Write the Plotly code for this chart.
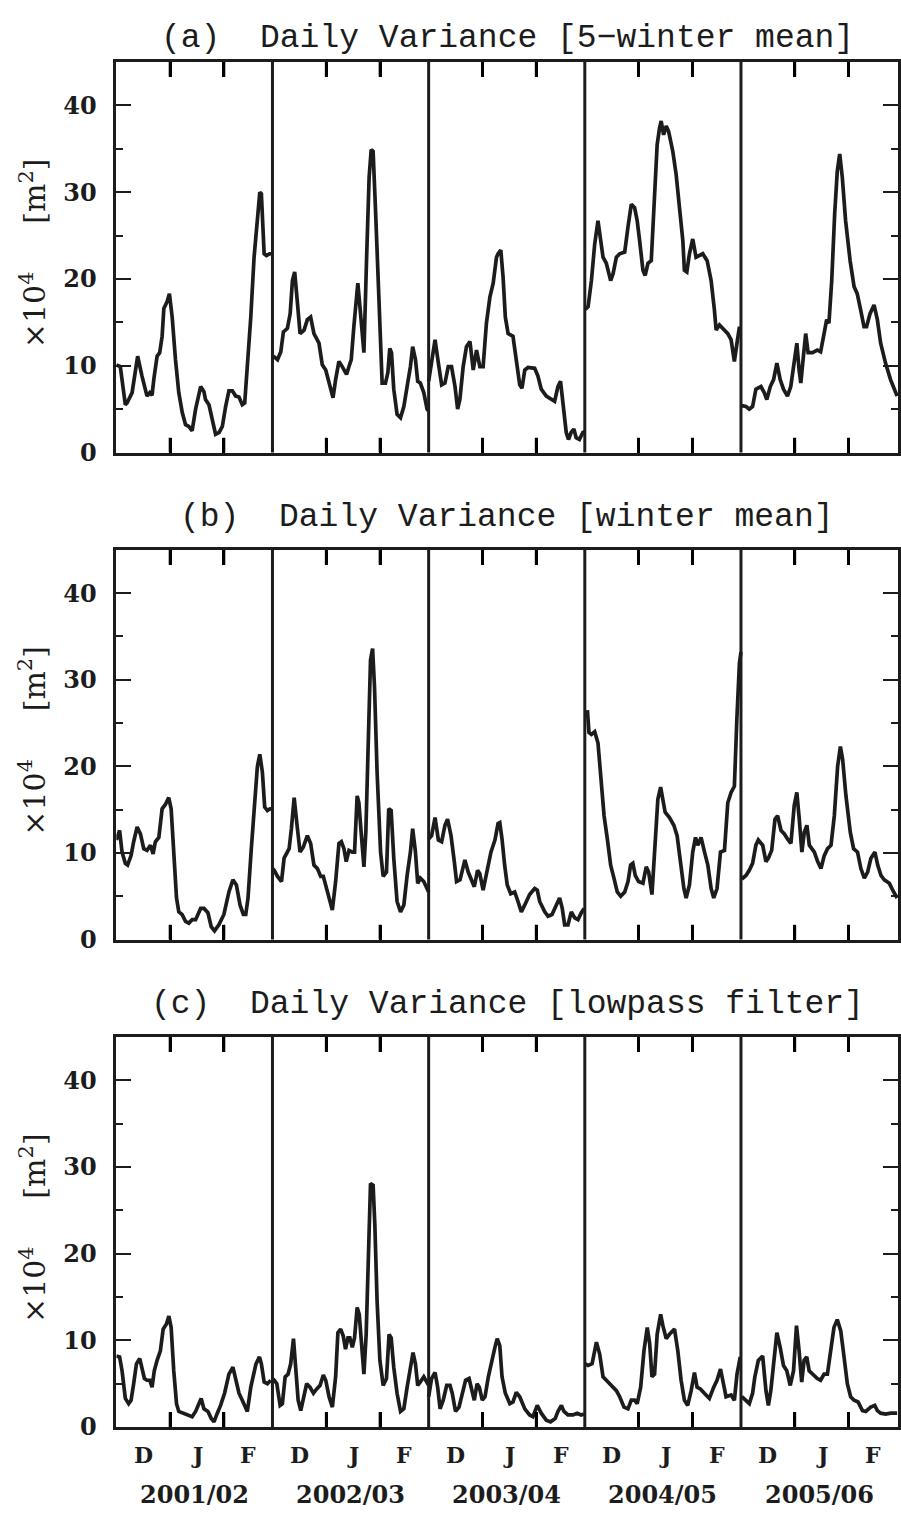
import plotly.graph_objects as go

# ---------------- data ----------------
WINTERS = ["2001/02", "2002/03", "2003/04", "2004/05", "2005/06"]
SEASON_DAYS = 90                      # Dec 1 .. Feb 28
MONTH_LABELS = ["D", "J", "F"]
MONTH_MID = [15.5, 46.5, 76.0]        # mid-month positions (day of winter)
MONTH_BOUNDS = [31, 62]               # Jan 1, Feb 1
Y_RANGE = [0, 45]
Y_MAJOR = [0, 10, 20, 30, 40]
Y_MINOR = [5, 15, 25, 35]

TITLES = ["(a)  Daily Variance [5\u2212winter mean]",
          "(b)  Daily Variance [winter mean]",
          "(c)  Daily Variance [lowpass filter]"]

# panel (a) 5-winter mean, values x10^4 m^2, day of winter
A1_DAY = [0, 2.3, 5.2, 6.2, 9.1, 12.3, 14.8, 16.8, 17.7, 19.3, 20.6, 21.6, 23.5, 25.0, 26.4, 27.4, 29.3, 30.6, 32.2, 34.1, 36.0, 38.0, 39.9, 41.8, 43.7, 45.7, 48.6, 50.5, 51.4, 53.4, 55.3, 57.2, 59.2, 61.1, 63.0, 64.9, 66.9, 68.8, 70.7, 72.6, 74.0, 75.5, 77.5, 79.4, 81.3, 82.7, 83.6, 85.2, 86.5, 88.4, 90.0]
A1_VAL = [10.1, 9.9, 5.5, 5.7, 6.9, 11.1, 8.8, 6.9, 6.5, 6.9, 6.6, 8.4, 11.1, 11.5, 13.4, 16.6, 17.4, 18.3, 15.6, 10.7, 6.9, 4.6, 3.2, 3.0, 2.5, 5.0, 7.6, 7.0, 6.1, 5.5, 3.8, 2.1, 2.3, 3.0, 5.3, 7.1, 7.1, 6.5, 6.4, 5.5, 5.7, 9.5, 15.6, 22.5, 27.5, 30.0, 29.8, 22.9, 22.7, 22.9, 22.9]
A2_DAY = [0.5, 2.9, 4.8, 6.3, 8.6, 10.2, 11.5, 12.8, 14.4, 15.9, 18.2, 20.1, 22.0, 23.9, 26.8, 28.7, 30.7, 33.5, 34.9, 36.4, 38.3, 40.2, 42.7, 44.1, 45.4, 46.9, 47.9, 49.2, 50.4, 51.7, 52.7, 54.2, 55.7, 56.9, 58.0, 59.4, 61.3, 63.2, 65.1, 66.5, 67.6, 68.6, 69.9, 71.8, 73.8, 75.7, 77.6, 79.5, 80.8, 82.4, 83.7, 85.2, 87.2, 89.1, 89.9]
A2_VAL = [11.1, 10.7, 11.6, 13.9, 14.3, 16.0, 19.8, 20.8, 17.2, 13.7, 14.1, 15.3, 15.6, 13.7, 12.6, 10.1, 9.5, 7.6, 6.3, 8.4, 10.5, 9.9, 9.0, 9.9, 10.7, 14.5, 17.2, 19.5, 16.8, 13.3, 11.5, 22.1, 31.7, 34.9, 34.7, 27.9, 18.3, 8.0, 8.0, 9.2, 12.0, 11.5, 7.3, 4.4, 4.0, 5.3, 7.6, 9.9, 12.2, 10.7, 8.2, 8.0, 6.9, 5.0, 4.8]
A3_DAY = [0, 1.7, 3.7, 5.6, 7.5, 9.4, 11.3, 13.2, 15.2, 16.7, 18.0, 19.9, 21.8, 23.8, 25.7, 27.6, 29.5, 31.4, 33.3, 35.3, 37.2, 39.1, 40.0, 41.6, 42.9, 44.2, 45.8, 48.6, 50.5, 52.5, 53.8, 55.4, 57.3, 61.1, 63.0, 64.9, 67.8, 70.6, 72.6, 74.5, 76.0, 77.4, 79.3, 80.6, 82.1, 83.7, 85.0, 86.9, 88.9, 90.0]
A3_VAL = [8.2, 10.7, 13.0, 10.3, 7.8, 8.0, 9.9, 9.9, 7.6, 5.0, 6.1, 9.9, 12.2, 12.8, 9.5, 11.8, 9.9, 9.9, 14.9, 17.9, 19.5, 22.5, 22.9, 23.3, 20.2, 15.6, 13.7, 13.4, 10.7, 7.8, 7.4, 9.5, 9.8, 9.7, 8.8, 7.3, 6.5, 6.1, 5.9, 7.6, 8.2, 5.7, 2.3, 1.5, 2.3, 2.7, 1.7, 1.5, 2.3, 2.4]
A4_DAY = [0.3, 1.9, 3.8, 5.7, 7.6, 9.2, 10.5, 12.4, 14.9, 16.3, 18.2, 20.1, 23.0, 24.9, 26.8, 28.7, 30.2, 31.6, 33.5, 34.8, 36.4, 38.3, 40.2, 41.7, 43.1, 44.0, 45.4, 46.9, 48.3, 50.7, 52.6, 54.6, 56.5, 57.4, 58.8, 60.3, 62.2, 64.1, 66.1, 68.0, 70.5, 72.8, 74.7, 75.7, 77.6, 79.5, 82.4, 84.3, 86.2, 87.7, 89.0, 90.0]
A4_VAL = [16.5, 16.8, 19.8, 24.0, 26.7, 24.4, 22.5, 21.8, 19.8, 20.6, 22.5, 22.9, 23.1, 26.0, 28.6, 28.2, 26.7, 24.4, 21.0, 20.4, 21.8, 22.1, 29.8, 35.5, 37.4, 38.2, 36.6, 37.6, 37.0, 34.7, 32.1, 28.6, 24.4, 21.0, 20.8, 22.9, 24.6, 22.5, 22.7, 22.9, 22.1, 19.8, 16.4, 14.1, 14.7, 14.3, 13.7, 13.0, 10.5, 12.6, 14.3, 14.3]
A5_DAY = [0.3, 2.9, 4.8, 6.7, 8.6, 11.5, 13.4, 14.9, 16.9, 18.8, 20.7, 22.6, 24.5, 26.8, 28.7, 30.7, 32.2, 33.5, 34.5, 36.0, 37.3, 38.7, 41.2, 44.0, 45.9, 47.9, 49.4, 50.7, 52.3, 54.0, 55.5, 56.9, 58.4, 60.3, 62.9, 65.2, 67.0, 69.0, 70.9, 72.4, 74.4, 76.7, 78.6, 80.5, 83.3, 86.2, 89.0, 90.0]
A5_VAL = [5.4, 5.3, 5.0, 5.3, 7.3, 7.6, 6.9, 6.1, 7.6, 8.4, 10.3, 8.4, 7.3, 6.5, 7.6, 10.3, 12.6, 9.5, 8.0, 11.1, 13.7, 11.5, 11.5, 11.8, 11.6, 13.7, 15.3, 14.9, 19.8, 27.5, 32.4, 34.4, 31.7, 26.7, 22.1, 19.1, 18.3, 16.4, 14.5, 14.5, 16.0, 17.0, 15.3, 12.6, 10.3, 8.4, 6.9, 6.5]

# panel (b) winter mean
B1_DAY = [0, 1.9, 3.3, 5.2, 6.5, 8.5, 10.0, 12.0, 13.9, 15.8, 17.7, 19.7, 21.2, 22.5, 24.5, 26.4, 28.3, 30.2, 31.6, 33.1, 34.7, 36.0, 37.9, 39.9, 41.8, 43.7, 45.7, 48.6, 50.5, 52.8, 54.7, 56.6, 59.1, 62.0, 64.9, 67.2, 69.2, 71.3, 73.2, 74.6, 75.9, 77.8, 79.8, 81.3, 82.7, 84.2, 85.5, 87.1, 88.6, 90.0]
B1_VAL = [11.5, 12.6, 10.1, 8.8, 8.6, 9.7, 11.3, 13.0, 12.2, 10.5, 10.3, 10.9, 9.9, 11.3, 11.8, 15.1, 15.6, 16.4, 15.1, 10.1, 4.8, 3.2, 2.9, 2.1, 1.9, 2.3, 2.3, 3.6, 3.6, 3.1, 1.5, 1.0, 1.7, 2.9, 5.5, 6.9, 6.3, 4.0, 2.9, 2.9, 4.8, 10.5, 15.5, 20.0, 21.4, 19.3, 15.3, 14.9, 15.1, 15.1]
B2_DAY = [0.2, 1.0, 2.9, 5.2, 6.7, 8.2, 9.6, 10.9, 12.5, 14.0, 15.9, 17.8, 20.1, 22.0, 23.9, 25.9, 27.8, 29.3, 31.6, 34.5, 36.4, 38.3, 39.7, 41.2, 42.5, 44.1, 46.0, 47.3, 48.8, 49.8, 51.1, 52.7, 53.8, 55.2, 56.5, 57.7, 58.8, 60.3, 62.3, 63.8, 65.7, 67.0, 68.4, 69.9, 71.8, 73.8, 75.7, 77.6, 79.5, 80.8, 82.4, 83.7, 85.2, 87.2, 90.0]
B2_VAL = [8.2, 8.0, 7.3, 6.7, 9.4, 10.1, 10.5, 12.8, 16.4, 13.5, 10.1, 10.7, 12.0, 11.1, 8.6, 8.2, 7.3, 7.3, 5.5, 3.4, 6.7, 11.1, 11.3, 10.5, 9.0, 10.3, 10.1, 10.1, 16.6, 15.8, 12.4, 8.4, 12.4, 23.9, 32.3, 33.6, 29.2, 19.3, 10.1, 7.3, 7.8, 15.1, 14.9, 9.4, 4.4, 3.2, 4.0, 7.4, 10.1, 12.8, 10.1, 6.5, 7.1, 6.7, 5.5]
B3_DAY = [0, 1.7, 3.7, 5.6, 7.5, 9.4, 10.9, 12.9, 14.8, 16.1, 18.1, 20.9, 22.8, 24.7, 26.3, 28.2, 29.5, 31.4, 33.3, 35.9, 38.2, 40.0, 41.0, 42.3, 43.8, 45.3, 47.3, 49.6, 51.5, 53.4, 55.4, 58.2, 61.1, 62.6, 64.0, 66.9, 68.8, 71.1, 73.6, 75.5, 77.0, 78.4, 80.3, 82.2, 84.2, 86.1, 88.0, 89.6]
B3_VAL = [11.6, 12.0, 14.1, 11.5, 11.3, 13.2, 13.9, 12.0, 9.0, 6.7, 6.9, 9.2, 7.8, 6.7, 6.1, 8.0, 7.6, 5.7, 7.4, 10.1, 11.5, 13.4, 13.5, 11.6, 8.6, 6.3, 5.3, 5.5, 4.4, 3.2, 4.0, 5.2, 5.9, 5.7, 4.4, 3.2, 2.7, 2.9, 4.0, 4.8, 3.6, 1.7, 1.7, 3.2, 2.5, 2.3, 3.1, 3.6]
B4_DAY = [1.5, 2.4, 3.8, 5.7, 7.6, 9.5, 11.1, 13.0, 14.9, 16.8, 18.7, 20.7, 23.0, 24.9, 26.4, 27.7, 29.1, 31.0, 33.5, 35.4, 36.8, 38.7, 40.2, 42.1, 43.7, 45.0, 46.3, 48.8, 51.3, 53.2, 55.2, 57.1, 58.4, 60.3, 62.2, 63.8, 65.1, 67.0, 69.0, 70.9, 72.8, 74.3, 76.2, 78.2, 80.5, 82.4, 84.3, 86.2, 87.7, 89.1, 90.0]
B4_VAL = [26.5, 23.9, 23.7, 24.0, 22.7, 18.1, 14.3, 11.6, 8.6, 7.1, 5.5, 5.0, 5.5, 6.7, 8.6, 8.8, 7.4, 6.7, 6.5, 8.4, 7.8, 5.2, 10.5, 16.2, 17.6, 15.8, 14.7, 14.1, 13.2, 12.0, 8.6, 5.9, 4.8, 6.3, 10.1, 11.8, 10.9, 11.8, 10.1, 8.6, 5.9, 4.8, 5.9, 10.1, 10.3, 15.8, 17.0, 17.7, 25.8, 31.9, 33.2]
B5_DAY = [0.5, 2.9, 4.8, 6.7, 8.6, 10.0, 12.5, 14.4, 15.8, 17.7, 19.6, 21.1, 23.1, 25.0, 26.9, 28.8, 30.7, 32.2, 33.6, 35.1, 36.5, 38.0, 39.4, 42.3, 44.2, 46.1, 48.0, 49.9, 51.9, 53.8, 55.7, 57.3, 58.6, 60.5, 63.0, 64.9, 67.2, 69.1, 71.1, 73.0, 74.9, 77.2, 78.8, 80.7, 82.6, 85.5, 88.0, 90.0]
B5_VAL = [7.0, 7.4, 8.0, 8.8, 10.9, 11.5, 10.9, 9.0, 9.4, 10.3, 13.9, 14.3, 12.6, 12.2, 11.6, 11.1, 15.5, 17.0, 13.9, 10.1, 12.4, 13.2, 10.9, 10.1, 9.0, 8.2, 9.7, 10.5, 10.9, 14.3, 20.0, 22.3, 20.8, 16.6, 12.4, 10.5, 10.1, 8.2, 7.1, 7.8, 9.4, 10.1, 8.6, 7.4, 6.9, 6.5, 5.5, 4.8]

# panel (c) lowpass filter
C1_DAY = [0, 1.9, 3.3, 5.2, 7.1, 8.5, 10.0, 11.6, 13.5, 14.8, 16.2, 17.7, 19.3, 20.6, 21.9, 23.5, 25.4, 27.0, 28.9, 30.3, 31.6, 33.1, 34.7, 36.0, 38.9, 41.8, 43.7, 45.7, 47.6, 48.9, 50.5, 52.8, 54.7, 56.3, 58.2, 60.1, 62.4, 64.9, 67.2, 69.2, 70.7, 72.6, 75.5, 77.5, 79.0, 80.5, 82.5, 83.6, 85.2, 87.1, 89.0]
C1_VAL = [8.2, 8.1, 6.5, 3.3, 2.7, 3.1, 5.0, 7.3, 7.9, 6.9, 5.6, 5.4, 5.4, 4.6, 6.5, 7.7, 8.8, 11.3, 11.9, 12.8, 11.5, 6.5, 2.7, 1.8, 1.6, 1.4, 1.2, 1.8, 2.7, 3.3, 2.1, 1.8, 1.0, 0.6, 1.6, 2.5, 3.9, 6.1, 6.9, 5.4, 3.9, 3.1, 1.8, 4.6, 6.0, 7.3, 8.1, 7.3, 5.2, 5.0, 5.4]
C2_DAY = [0.2, 1.0, 2.5, 4.4, 5.7, 7.3, 9.0, 10.5, 12.1, 13.4, 14.8, 16.3, 17.8, 19.7, 21.6, 23.6, 25.5, 27.4, 29.3, 30.7, 32.6, 34.5, 36.4, 37.7, 39.3, 40.8, 42.1, 43.5, 44.6, 46.0, 47.3, 48.8, 50.0, 51.3, 52.7, 54.0, 55.2, 56.5, 58.0, 59.0, 60.3, 61.9, 63.8, 65.7, 67.2, 68.4, 69.9, 71.8, 73.8, 75.7, 77.6, 79.5, 81.0, 82.4, 83.7, 85.2, 87.2, 90.0]
C2_VAL = [5.3, 5.4, 5.0, 2.5, 2.7, 5.8, 6.1, 7.3, 10.2, 6.9, 3.1, 1.9, 3.5, 5.0, 4.6, 3.9, 4.4, 4.8, 6.0, 5.4, 3.5, 2.3, 5.8, 10.9, 11.3, 10.5, 9.0, 10.3, 10.3, 9.2, 10.3, 13.8, 13.0, 9.2, 6.1, 10.7, 20.3, 28.1, 27.9, 23.3, 14.5, 7.7, 4.8, 5.6, 10.7, 10.3, 6.9, 3.9, 1.8, 2.1, 4.6, 6.9, 8.6, 7.3, 4.8, 5.2, 5.8, 4.8]
C3_DAY = [0, 1.7, 3.7, 5.2, 6.6, 8.4, 10.4, 12.3, 13.6, 15.5, 17.5, 19.4, 21.3, 23.3, 24.8, 26.3, 27.9, 29.2, 30.9, 32.5, 34.4, 36.3, 38.2, 39.5, 41.0, 42.3, 44.2, 46.8, 48.6, 50.5, 52.5, 55.4, 58.2, 60.1, 62.6, 64.9, 67.8, 70.3, 73.0, 74.5, 76.5, 78.0, 80.3, 83.2, 85.6, 87.9, 89.5]
C3_VAL = [3.5, 5.6, 6.3, 4.6, 2.1, 3.1, 4.8, 4.8, 3.9, 1.8, 2.3, 3.9, 5.4, 5.6, 4.2, 3.1, 5.0, 4.6, 3.1, 3.5, 5.8, 7.7, 9.2, 10.2, 9.4, 5.8, 3.9, 2.7, 2.9, 4.0, 3.5, 2.1, 1.4, 1.2, 2.5, 1.6, 0.8, 0.6, 1.0, 1.8, 2.5, 1.8, 1.4, 1.4, 1.6, 1.4, 1.5]
C4_DAY = [0.3, 1.9, 4.2, 6.7, 8.6, 10.5, 12.4, 15.3, 18.2, 20.1, 22.6, 24.9, 26.8, 28.7, 30.2, 32.2, 34.1, 36.0, 37.4, 38.7, 40.2, 41.7, 43.7, 45.0, 46.9, 48.8, 51.7, 53.6, 55.5, 57.4, 59.3, 61.3, 63.2, 64.7, 66.6, 68.9, 71.8, 74.3, 76.2, 78.2, 79.7, 81.4, 84.3, 86.2, 87.7, 89.6]
C4_VAL = [7.3, 7.1, 7.3, 9.8, 8.4, 5.8, 5.4, 4.8, 4.2, 3.5, 2.3, 2.1, 3.1, 3.1, 2.7, 4.6, 8.8, 11.5, 9.6, 5.8, 6.1, 10.7, 13.0, 11.7, 10.2, 10.7, 11.3, 8.8, 5.4, 3.1, 2.5, 4.2, 6.3, 4.6, 4.4, 3.9, 3.3, 4.6, 5.4, 6.7, 5.0, 3.5, 3.7, 3.1, 6.1, 8.1]
C5_DAY = [0.5, 2.9, 4.8, 6.7, 8.0, 10.0, 12.5, 14.4, 15.8, 17.2, 19.2, 20.7, 22.6, 24.5, 26.4, 28.4, 30.3, 32.0, 33.5, 35.0, 36.4, 37.9, 39.3, 41.2, 44.0, 45.9, 47.9, 49.8, 51.7, 53.6, 55.5, 57.5, 59.4, 61.3, 63.2, 65.2, 67.5, 70.0, 71.9, 74.8, 77.1, 78.6, 80.5, 83.4, 86.3, 90.0]
C5_VAL = [3.5, 3.1, 2.7, 3.9, 5.8, 7.7, 8.2, 4.2, 2.5, 4.2, 8.4, 10.9, 9.2, 7.1, 6.5, 4.8, 6.5, 11.7, 8.8, 5.2, 7.7, 8.1, 6.5, 6.1, 5.6, 5.4, 6.1, 6.1, 9.2, 11.5, 12.4, 11.1, 8.1, 5.0, 3.5, 3.1, 2.9, 1.9, 1.8, 2.3, 2.5, 1.9, 1.6, 1.5, 1.6, 1.6]

PANEL_DAYS = [[A1_DAY, A2_DAY, A3_DAY, A4_DAY, A5_DAY],
              [B1_DAY, B2_DAY, B3_DAY, B4_DAY, B5_DAY],
              [C1_DAY, C2_DAY, C3_DAY, C4_DAY, C5_DAY]]
PANEL_VALS = [[A1_VAL, A2_VAL, A3_VAL, A4_VAL, A5_VAL],
              [B1_VAL, B2_VAL, B3_VAL, B4_VAL, B5_VAL],
              [C1_VAL, C2_VAL, C3_VAL, C4_VAL, C5_VAL]]

# ---------------- layout constants ----------------
W, H = 901, 1523
INK = "#1c1c1c"
TICK_INK = "#000000"
FRAME_LEFT = 116.7
PANEL_TOP = [62.5, 555.0, 1046.7]
PANEL_BOT = [456.7, 948.3, 1440.3]
TITLE_Y = [39, 522, 1014]
MONTH_LABEL_Y = 1469
WINTER_LABEL_Y = 1508
TICK_LEN = 15
SERIF = "DejaVu Serif"

fig = go.Figure()

n_w = len(WINTERS)
bound_x = [w * SEASON_DAYS + b for w in range(n_w) for b in MONTH_BOUNDS]

for p in range(3):
    sfx = "" if p == 0 else str(p + 1)
    xa, ya_ = "x" + sfx, "y" + sfx
    for w in range(n_w):
        d = PANEL_DAYS[p][w]
        v = PANEL_VALS[p][w]
        assert len(d) == len(v), (p, w, len(d), len(v))
        fig.add_trace(go.Scatter(
            x=[w * SEASON_DAYS + t for t in d], y=v,
            mode="lines", line=dict(color=INK, width=3.7),
            xaxis=xa, yaxis=ya_,
            showlegend=False, hoverinfo="skip"))

    # month-boundary tick marks (bottom and top, pointing inward)
    tick_h = TICK_LEN / (PANEL_BOT[p] - PANEL_TOP[p]) * (Y_RANGE[1] - Y_RANGE[0])
    for bx in bound_x:
        fig.add_shape(type="line", xref=xa, yref=ya_,
                      x0=bx, x1=bx, y0=Y_RANGE[0], y1=Y_RANGE[0] + tick_h,
                      line=dict(color=TICK_INK, width=2.8), layer="above")
        fig.add_shape(type="line", xref=xa, yref=ya_,
                      x0=bx, x1=bx, y0=Y_RANGE[1] - tick_h, y1=Y_RANGE[1],
                      line=dict(color=TICK_INK, width=2.8), layer="above")

    y0 = 1 - PANEL_BOT[p] / H
    y1 = 1 - PANEL_TOP[p] / H
    fig.layout["xaxis" + sfx] = dict(
        domain=[FRAME_LEFT / W, 1.0], range=[0, n_w * SEASON_DAYS + 0.5],
        anchor=ya_,
        tickmode="array", tickvals=bound_x,
        ticks="inside", ticklen=TICK_LEN, tickwidth=2.6, tickcolor=TICK_INK,
        showticklabels=False,
        showline=True, linewidth=2.6, linecolor=INK, mirror="ticks",
        showgrid=False, zeroline=False, fixedrange=True)
    fig.layout["yaxis" + sfx] = dict(
        domain=[y0, y1], range=Y_RANGE, anchor=xa,
        tickmode="array", tickvals=Y_MAJOR,
        ticks="inside", ticklen=15, tickwidth=2.4, tickcolor=INK,
        minor=dict(tickmode="array", tickvals=Y_MINOR, ticks="inside",
                   ticklen=7, tickwidth=2, tickcolor=INK, showgrid=False),
        tickfont=dict(family=SERIF, size=24, color=INK, weight="bold"),
        ticklabelstandoff=12,
        showline=True, linewidth=2.6, linecolor=INK, mirror="ticks",
        showgrid=False, zeroline=False, fixedrange=True)

    # winter separators
    for w in range(1, n_w):
        fig.add_shape(type="line", xref=xa, yref=ya_ + " domain",
                      x0=w * SEASON_DAYS, x1=w * SEASON_DAYS, y0=0, y1=1,
                      line=dict(color=INK, width=3))

    # panel title
    fig.add_annotation(text=TITLES[p], xref="paper", yref="paper",
                       x=509 / W, y=1 - TITLE_Y[p] / H, xanchor="center",
                       yanchor="middle", showarrow=False,
                       font=dict(family="Liberation Mono", size=33, color=INK))
    # y-axis title
    yc = (PANEL_TOP[p] + PANEL_BOT[p]) / 2 - 4
    fig.add_annotation(text="\u00d710<sup>4</sup>     [m<sup>2</sup>]",
                       xref="paper", yref="paper", x=33 / W, y=1 - yc / H,
                       xanchor="center", yanchor="middle", textangle=-90,
                       showarrow=False,
                       font=dict(family=SERIF, size=30, color=INK))

# month labels (D, J, F) and winter labels below the bottom panel
for w, lab in enumerate(WINTERS):
    for m, mlab in zip(MONTH_MID, MONTH_LABELS):
        fig.add_annotation(text=mlab, xref="x3", yref="paper",
                           x=w * SEASON_DAYS + m, y=1 - MONTH_LABEL_Y / H,
                           xanchor="center", yanchor="middle", showarrow=False,
                           font=dict(family=SERIF, size=22, color=INK,
                                     weight="bold"))
    fig.add_annotation(text=lab, xref="x3", yref="paper",
                       x=w * SEASON_DAYS + SEASON_DAYS / 2,
                       y=1 - WINTER_LABEL_Y / H,
                       xanchor="center", yanchor="middle", showarrow=False,
                       font=dict(family=SERIF, size=24, color=INK, weight="bold"))

fig.update_layout(width=W, height=H, margin=dict(l=0, r=0, t=0, b=0),
                  paper_bgcolor="white", plot_bgcolor="white",
                  showlegend=False)

fig.write_html("out.html")
